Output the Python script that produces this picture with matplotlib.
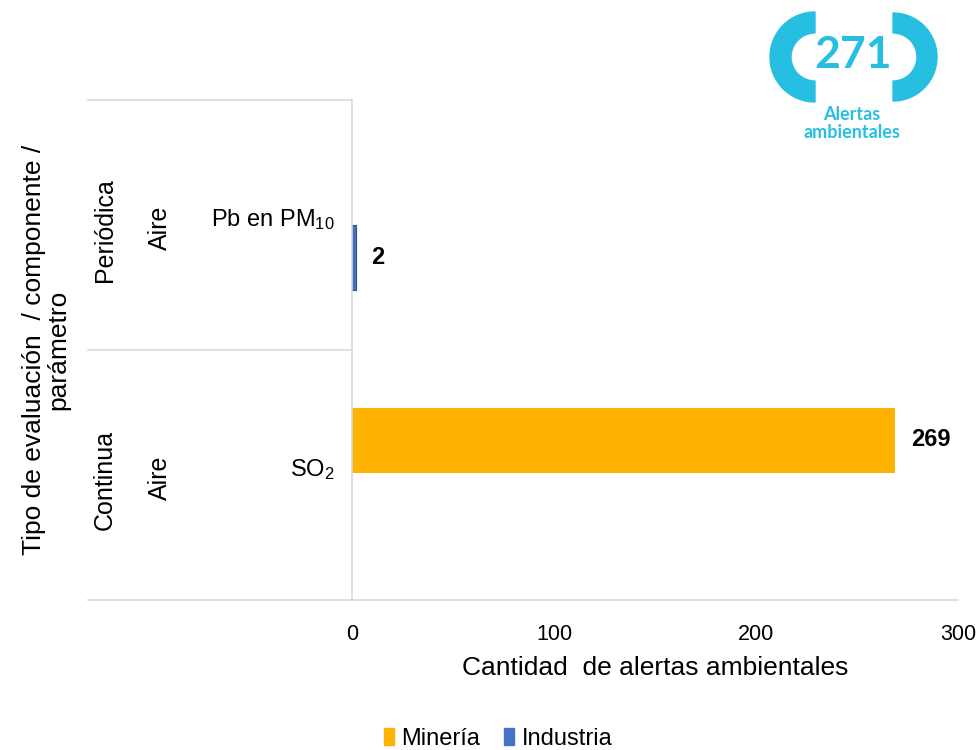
import matplotlib
matplotlib.use('Agg')
import matplotlib.pyplot as plt
from matplotlib.patches import Wedge, Patch

plt.rcParams['font.family'] = ['Liberation Sans', 'DejaVu Sans']
plt.rcParams['mathtext.fontset'] = 'custom'
plt.rcParams['mathtext.rm'] = 'Liberation Sans'
plt.rcParams['mathtext.it'] = 'Liberation Sans:italic'
plt.rcParams['mathtext.bf'] = 'Liberation Sans:bold'

# data (bottom to top)
evaluacion = ['Continua', 'Periódica']
componente = ['Aire', 'Aire']
parametro = ['SO$_2$', 'Pb en PM$_{10}$']
mineria = [269, 0]
industria = [0, 2]
total_alertas = 271

C_MIN = '#FFB300'
C_IND = '#4472C4'
C_GRID = '#D9D9D9'
C_LOGO = '#27BFE1'

fig = plt.figure(figsize=(9.8, 7.5), dpi=100)
ax = fig.add_axes([352/980, 150/750, 606/980, 500/750])

ys = list(range(len(evaluacion)))
bh = 0.26
ax.barh([y + 0.14 for y in ys], mineria, height=bh, color=C_MIN)
ax.barh([y - 0.13 for y in ys], industria, height=bh, color=C_IND,
        edgecolor='#2F528F', linewidth=[0.8 if v else 0 for v in industria])

for y, v in zip(ys, mineria):
    if v:
        ax.annotate(str(v), (v, y + 0.14), xytext=(11, 0), textcoords='offset points',
                    ha='left', va='center', fontsize=17, fontweight='bold')
for y, v in zip(ys, industria):
    if v:
        ax.annotate(str(v), (v, y - 0.13), xytext=(11, 0), textcoords='offset points',
                    ha='left', va='center', fontsize=17, fontweight='bold')

ax.set_xlim(0, 300)
ax.set_ylim(-0.5, len(evaluacion) - 0.5)
ax.set_xticks([0, 100, 200, 300])
ax.set_yticks([])
ax.tick_params(axis='x', length=0, pad=17, labelsize=15.5)
for s in ['top', 'right']:
    ax.spines[s].set_visible(False)
for s in ['left', 'bottom']:
    ax.spines[s].set_color(C_GRID)
    ax.spines[s].set_linewidth(1.2)

# multi-level category axis
tr = ax.get_yaxis_transform()
x0 = (88 - 352) / 606
for yb in [-0.5, 0.5, 1.5]:
    ax.plot([x0, 0], [yb, yb], color=C_GRID, lw=1.2, transform=tr, clip_on=False)
for y, e, c, p in zip(ys, evaluacion, componente, parametro):
    ax.text((105 - 352) / 606, y - 0.02, e, transform=tr, rotation=90,
            ha='center', va='center', fontsize=18)
    ax.text((160 - 352) / 606, y - 0.01, c, transform=tr, rotation=90,
            ha='center', va='center', fontsize=18)
    ax.text(-0.028, y + 0.02, p, transform=tr, ha='right', va='center', fontsize=17)

fig.text(46/980, 1 - 350/750, 'Tipo de evaluación  / componente /\nparámetro',
         rotation=90, ha='center', va='center', fontsize=19, linespacing=1.0)
fig.text(655/980, 1 - 668/750, 'Cantidad  de alertas ambientales',
         ha='center', va='center', fontsize=19)

handles = [Patch(color=C_MIN), Patch(color=C_IND)]
fig.legend(handles, ['Minería', 'Industria'], loc='center',
           bbox_to_anchor=(498/980, 1 - 739/750), ncol=2, frameon=False,
           fontsize=17, handlelength=0.45, handleheight=0.75,
           handletextpad=0.3, columnspacing=1.0)

# logo
lax = fig.add_axes([760/980, 1 - 150/750, 220/980, 150/750])
lax.set_xlim(760, 980)
lax.set_ylim(150, 0)
lax.axis('off')
lax.add_patch(Wedge((815, 57), 45, 90, 270, width=21, color=C_LOGO))
lax.add_patch(Wedge((893, 57), 44, -90, 90, width=20, color=C_LOGO))
lax.text(853, 55, str(total_alertas), ha='center', va='center', fontsize=32,
         fontweight='bold', color=C_LOGO, family=['Lato', 'Liberation Sans'])
lax.text(852, 114, 'Alertas', ha='center', va='center', fontsize=13,
         fontweight='bold', color=C_LOGO, family=['Lato', 'Liberation Sans'])
lax.text(852, 133, 'ambientales', ha='center', va='center', fontsize=13,
         fontweight='bold', color=C_LOGO, family=['Lato', 'Liberation Sans'])

fig.savefig('out.png', dpi=100)
